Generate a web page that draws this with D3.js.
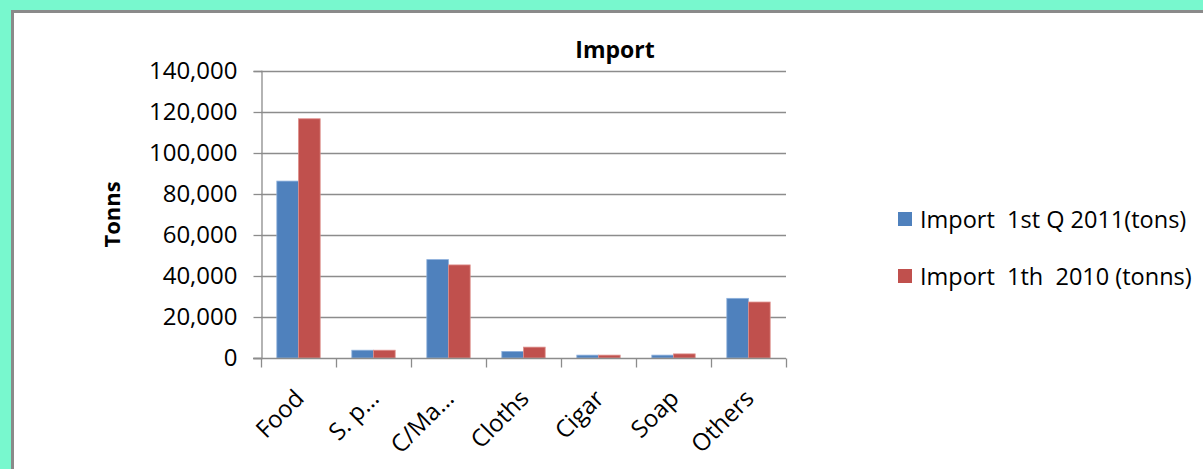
<!DOCTYPE html>
<html><head><meta charset="utf-8">
<script src="https://cdn.jsdelivr.net/npm/d3@7"></script>
<style>
html,body{margin:0;padding:0;background:#78F8CE;overflow:hidden;}
svg{display:block;}
text{font-family:"Open Sans","Noto Sans",sans-serif;fill:#000;}
</style></head>
<body>
<svg id="chart" width="1203" height="469"></svg>
<script>
const categories = ["Food", "S. p\u2026", "C/Ma\u2026", "Cloths", "Cigar", "Soap", "Others"];
const seriesNames = ["Import  1st Q 2011(tons)", "Import  1th  2010 (tonns)"];
const import2011Q1 = [86300, 3800, 48000, 3200, 1400, 1400, 29100];
const import2010 = [116700, 3800, 45400, 5300, 1400, 2000, 27300];
const yTicks = [0, 20000, 40000, 60000, 80000, 100000, 120000, 140000];
const colors = ["#4F81BD", "#C0504D"];
const edgeColors = ["#8DB0DC", "#DE8E8B"];

const svg = d3.select("#chart");
// white panel with gray border
svg.append("rect").attr("x", 12.5).attr("y", 11.5).attr("width", 1300).attr("height", 600)
  .attr("fill", "#fff").attr("stroke", "#8a8a8a").attr("stroke-width", 3);

const pLeft = 261, pRight = 786, pTop = 71, pBottom = 358;
const x = d3.scaleBand().domain(categories).range([pLeft, pRight]).paddingInner(0).paddingOuter(0);
const y = d3.scaleLinear().domain([0, 140000]).range([pBottom, pTop]);
const inner = d3.scaleBand().domain([0, 1]).range([0, x.bandwidth()]).paddingInner(0).paddingOuter(0.73);

// gridlines
svg.append("g").selectAll("line").data(yTicks.filter(d => d > 0)).join("line")
  .attr("x1", pLeft).attr("x2", pRight).attr("y1", d => Math.round(y(d)) + 0.5).attr("y2", d => Math.round(y(d)) + 0.5)
  .attr("stroke", "#8c8c8c").attr("stroke-width", 1.3);

// bars
const data = [import2011Q1, import2010];
data.forEach((vals, si) => {
  svg.append("g").selectAll("rect").data(vals).join("rect")
    .attr("x", (d, i) => x(categories[i]) + inner(si))
    .attr("width", inner.bandwidth())
    .attr("y", d => y(d))
    .attr("height", d => y(0) - y(d))
    .attr("fill", colors[si])
    .attr("stroke", edgeColors[si]).attr("stroke-width", 0.8);
});

// y axis
const yAxis = d3.axisLeft(y).tickValues(yTicks).tickSize(8).tickPadding(16).tickFormat(d3.format(","));
const gy = svg.append("g").attr("transform", `translate(${pLeft + 0.5},0)`).call(yAxis);
gy.select(".domain").attr("stroke", "#8c8c8c").attr("stroke-width", 1.3);
gy.selectAll(".tick line").attr("stroke", "#8c8c8c").attr("stroke-width", 1.3);
gy.selectAll(".tick text").attr("font-size", 24).attr("font-family", "Open Sans").attr("fill", "#000");

// x axis
const xAxis = d3.axisBottom(x).tickSize(0).tickFormat("");
const gx = svg.append("g").attr("transform", `translate(0,${pBottom + 0.5})`).call(xAxis);
gx.select(".domain").attr("stroke", "#8c8c8c").attr("stroke-width", 1.3).attr("d", `M${pLeft - 8},0H${pRight}`);
gx.selectAll(".tick").remove();
const boundaries = d3.range(categories.length + 1).map(i => pLeft + i * x.bandwidth());
gx.selectAll("line.bt").data(boundaries).join("line").attr("class", "bt")
  .attr("x1", d => d + 0.5).attr("x2", d => d + 0.5).attr("y1", 0).attr("y2", 9)
  .attr("stroke", "#8c8c8c").attr("stroke-width", 1.3);

// category labels
svg.append("g").selectAll("text").data(categories).join("text")
  .attr("transform", d => `translate(${x(d) + x.bandwidth() / 2 + 1},${pBottom + 36}) rotate(-45)`)
  .attr("text-anchor", "end").attr("dy", "0.35em")
  .attr("font-size", 24).text(d => d);

// title
svg.append("text").attr("x", 615).attr("y", 58).attr("text-anchor", "middle")
  .attr("font-size", 23).attr("font-weight", "bold").text("Import");

// y title
svg.append("text").attr("transform", `translate(120,${(pTop + pBottom) / 2}) rotate(-90)`)
  .attr("text-anchor", "middle").attr("font-size", 22).attr("font-weight", "bold").text("Tonns");

// legend
const lg = svg.append("g");
seriesNames.forEach((n, i) => {
  const yy = 212 + i * 57;
  lg.append("rect").attr("x", 898).attr("y", yy).attr("width", 14).attr("height", 14).attr("fill", colors[i]);
  lg.append("text").attr("x", 920).attr("y", yy + 16).attr("font-size", 23.5)
    .style("white-space", "pre").text(n);
});
</script>
</body></html>
